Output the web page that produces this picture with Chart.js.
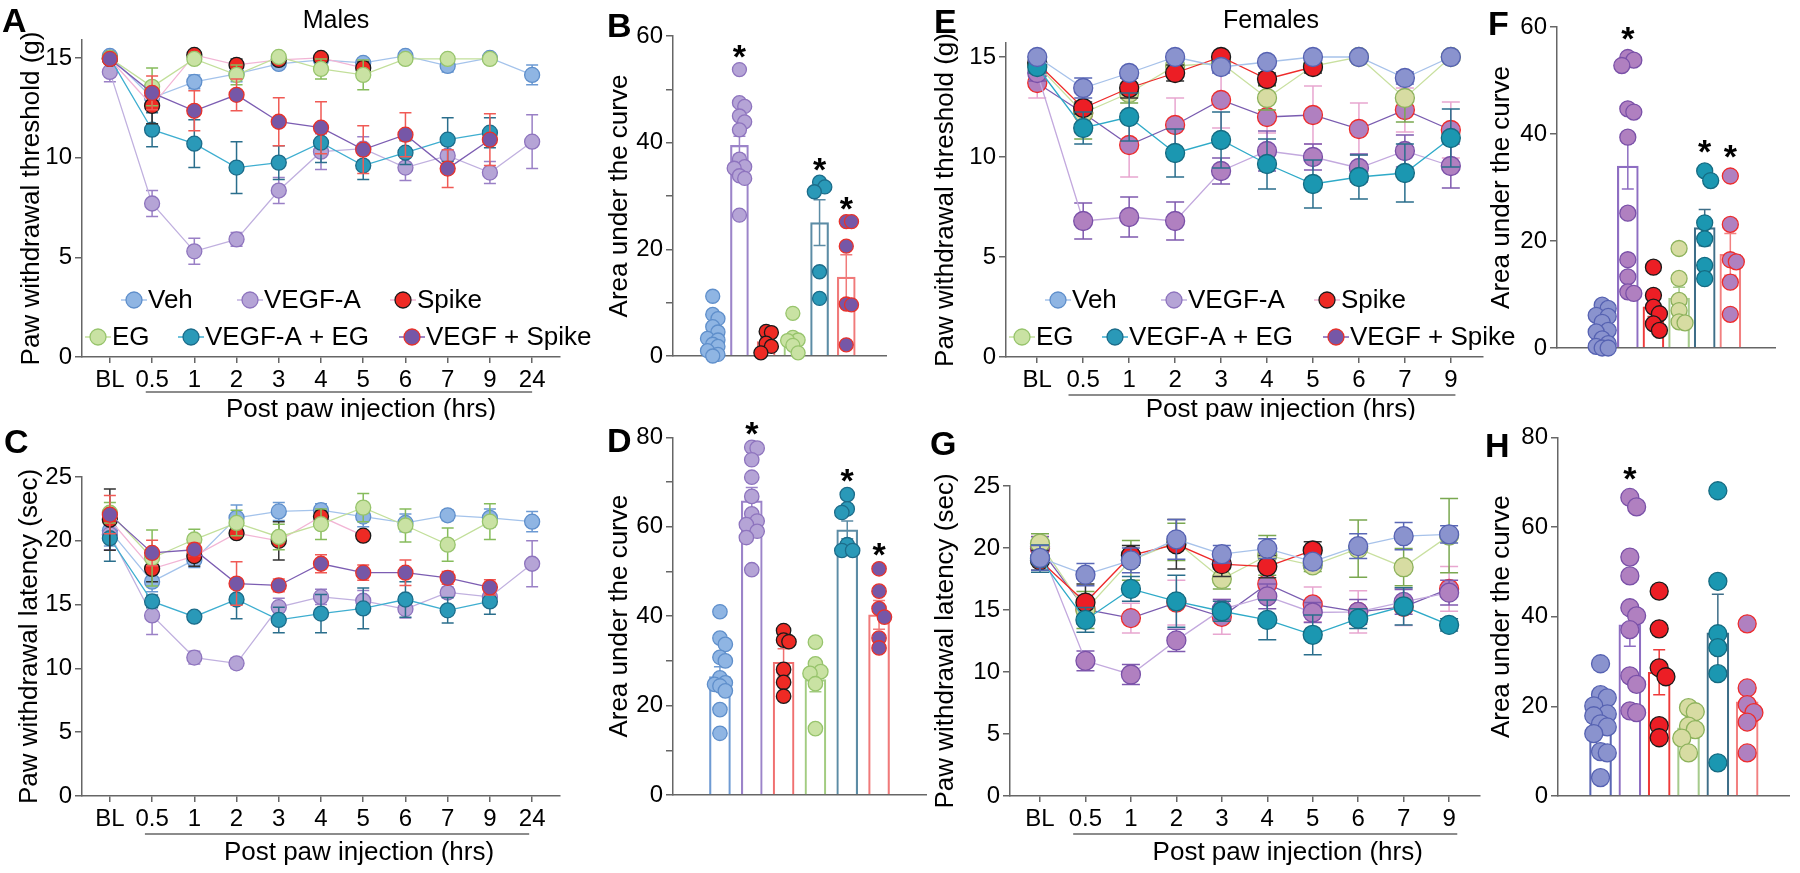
<!DOCTYPE html>
<html><head><meta charset="utf-8">
<script src="https://cdn.jsdelivr.net/npm/chart.js@4.4.1/dist/chart.umd.min.js"></script>
<style>
html,body{margin:0;padding:0;background:#fff;}
#wrap{position:relative;width:1800px;height:873px;overflow:hidden;background:#fff;font-family:Arial,'Liberation Sans',Helvetica,sans-serif;}
canvas{position:absolute;}
.lbl{position:absolute;font-weight:bold;font-size:34px;line-height:34px;color:#000;}
.ttl{position:absolute;font-size:25px;line-height:25px;width:300px;text-align:center;color:#000;}
</style></head>
<body><div id="wrap">
<canvas id="cA"></canvas><canvas id="cB"></canvas><canvas id="cC"></canvas><canvas id="cD"></canvas>
<canvas id="cE"></canvas><canvas id="cF"></canvas><canvas id="cG"></canvas><canvas id="cH"></canvas>
<div class="lbl" style="left:2px;top:3px">A</div>
<div class="lbl" style="left:607px;top:8px">B</div>
<div class="lbl" style="left:4px;top:424px">C</div>
<div class="lbl" style="left:607px;top:423px">D</div>
<div class="lbl" style="left:934px;top:4px">E</div>
<div class="lbl" style="left:1488px;top:6px">F</div>
<div class="lbl" style="left:930px;top:426px">G</div>
<div class="lbl" style="left:1485px;top:428px">H</div>
<div class="ttl" style="left:186px;top:7px">Males</div>
<div class="ttl" style="left:1121px;top:7px">Females</div>
</div>
<script>
// ================= DATA =================
const timeLabelsMales   = ['BL','0.5','1','2','3','4','5','6','7','9','24'];
const timeLabelsFemales = ['BL','0.5','1','2','3','4','5','6','7','9'];
const groupNames = ['Veh','VEGF-A','Spike','EG','VEGF-A + EG','VEGF + Spike'];
const thresholdTicks = [0,5,10,15];
const latencyTicks = [0,5,10,15,20,25];
const aucTicks60 = [0,10,20,30,40,50,60];
const aucTicks80 = [0,10,20,30,40,50,60,70,80];
const aucTicks80major = [0,20,40,60,80];

// A: males, paw withdrawal threshold (g)
const A_veh      = [15.1, 13.0, 13.8, 14.2, 14.7, 14.9, 14.75, 15.1, 14.6, 15.0, 14.15];
const A_veh_sem  = [0.1, 0.5, 0.35, 0.4, 0.2, 0.15, 0.2, 0.1, 0.3, 0.1, 0.5];
const A_vegf     = [14.3, 7.7, 5.3, 5.9, 8.35, 10.3, 10.45, 9.5, 10.1, 9.25, 10.8];
const A_vegf_sem = [0.5, 0.65, 0.65, 0.35, 0.65, 0.9, 0.6, 0.65, 0.55, 0.55, 1.35];
const A_spike    = [14.95, 12.6, 15.15, 14.65, 14.9, 15.0, 14.5, null, null, null, null];
const A_spike_sem= [0.1, 0.9, 0.1, 0.3, 0.15, 0.1, 0.3, null, null, null, null];
const A_eg       = [15.0, 13.55, 14.95, 14.15, 15.05, 14.45, 14.15, 14.95, 14.95, 14.95, null];
const A_eg_sem   = [0.1, 0.95, 0.1, 0.5, 0.1, 0.5, 0.75, 0.1, 0.1, 0.1, null];
const A_vegfeg   = [15.0, 11.4, 10.7, 9.5, 9.75, 10.75, 9.6, 10.25, 10.9, 11.25, null];
const A_vegfeg_sem=[0.1, 0.85, 1.2, 1.3, 0.85, 1.0, 0.7, 0.6, 1.1, 0.75, null];
const A_vegfspk  = [14.95, 13.25, 12.35, 13.15, 11.8, 11.5, 10.4, 11.15, 9.45, 10.9, null];
const A_vegfspk_sem=[0.1, 0.85, 1.0, 0.8, 1.2, 1.3, 1.2, 1.1, 0.95, 1.3, null];

// B: males, AUC (threshold)
const B_means = [3.9, 39.5, 2.7, 2.9, 25.0, 14.8];
const B_sems  = [1.0, 1.7, 0.8, 1.0, 4.3, 4.2];
const B_veh      = [11.2, 7.8, 7.0, 5.5, 4.5, 3.3, 3.0, 2.2, 1.8, 1.0, 0.3, 0.0];
const B_vegf     = [53.7, 47.5, 46.8, 45.0, 43.9, 42.4, 36.9, 35.5, 35.2, 33.8, 33.3, 26.4];
const B_spike    = [4.6, 4.4, 2.4, 1.8, 0.6];
const B_eg       = [8.0, 3.5, 3.0, 2.9, 2.0, 0.6];
const B_vegfeg   = [32.6, 31.7, 30.8, 15.8, 10.8];
const B_vegfspk  = [25.2, 25.2, 20.6, 9.75, 9.6, 2.1];
const B_stars    = [false, true, false, false, true, true];

// C: males, paw withdrawal latency (sec)
const C_veh      = [20.8, 16.8, 18.5, 21.8, 22.3, 22.4, 21.9, 21.4, 22.0, 21.8, 21.5];
const C_veh_sem  = [1.2, 0.8, 0.6, 1.0, 0.7, 0.5, 0.8, 0.7, 0.4, 0.7, 0.8];
const C_vegf     = [20.5, 14.15, 10.85, 10.4, 14.8, 15.6, 15.3, 14.65, 15.95, 15.6, 18.2];
const C_vegf_sem = [1.2, 1.5, 0.5, 0.4, 0.7, 0.6, 0.8, 0.7, 0.4, 0.4, 1.8];
const C_spike    = [21.65, 17.8, 18.8, 20.6, 20.0, 21.9, 20.4, null, null, null, null];
const C_spike_sem= [2.4, 1.0, 0.8, 0.3, 1.5, 0.4, 0.3, null, null, null, null];
const C_eg       = [22.2, 18.65, 20.1, 21.4, 20.3, 21.3, 22.6, 21.2, 19.7, 21.5, null];
const C_eg_sem   = [0.8, 2.2, 0.8, 1.0, 1.0, 1.2, 1.1, 1.3, 1.3, 1.4, null];
const C_vegfeg   = [20.2, 15.25, 14.05, 15.4, 13.8, 14.3, 14.7, 15.4, 14.55, 15.25, null];
const C_vegfeg_sem=[1.8, 0.5, 0.3, 1.5, 1.0, 1.5, 1.6, 1.4, 1.0, 1.0, null];
const C_vegfspk  = [22.05, 19.05, 19.3, 16.65, 16.5, 18.2, 17.5, 17.5, 17.1, 16.35, null];
const C_vegfspk_sem=[1.5, 1.0, 0.5, 1.7, 0.5, 0.7, 0.6, 1.0, 0.5, 0.6, null];

// D: males, AUC (latency)
const D_means = [26.5, 65.8, 29.7, 25.8, 59.3, 40.3];
const D_sems  = [2.2, 3.0, 3.0, 2.7, 2.0, 3.2];
const D_veh      = [41.0, 35.1, 33.7, 30.8, 30.0, 26.2, 25.1, 24.75, 24.4, 23.3, 19.1, 13.8];
const D_vegf     = [77.8, 77.6, 75.0, 71.1, 66.8, 62.9, 61.3, 60.5, 59.0, 57.6, 50.4];
const D_spike    = [36.8, 34.65, 34.3, 28.1, 25.2, 22.1];
const D_eg       = [34.2, 29.35, 27.6, 27.2, 24.9, 14.85];
const D_vegfeg   = [67.2, 64.0, 63.2, 56.0, 54.7, 54.7];
const D_vegfspk  = [50.6, 45.6, 41.7, 39.8, 35.1, 32.9];
const D_stars    = [false, true, false, false, true, true];

// E: females, paw withdrawal threshold (g)
const E_veh      = [15.0, 13.45, 14.2, 15.0, 14.5, 14.75, 15.0, 15.0, 13.95, 15.0];
const E_veh_sem  = [0.1, 0.5, 0.1, 0.1, 0.3, 0.1, 0.1, 0.1, 0.3, 0.1];
const E_vegf     = [14.2, 6.8, 7.0, 6.8, 9.3, 10.3, 10.0, 9.45, 10.3, 9.55];
const E_vegf_sem = [0.4, 0.9, 1.0, 0.95, 0.65, 1.0, 0.65, 0.7, 0.8, 1.1];
const E_spike    = [14.7, 12.45, 13.45, 14.2, 15.0, 13.9, 14.5, null, null, null];
const E_spike_sem= [0.2, 0.3, 0.5, 0.4, 0.1, 0.3, 0.3, null, null, null];
const E_eg       = [14.6, 12.2, 13.2, 14.55, 14.7, 12.95, 14.55, 15.0, 12.95, 15.0];
const E_eg_sem   = [0.2, 1.3, 0.5, 0.3, 0.2, 0.6, 0.2, 0.1, 1.2, 0.1];
const E_vegfeg   = [14.5, 11.45, 12.0, 10.2, 10.85, 9.65, 8.65, 9.0, 9.2, 10.95];
const E_vegfeg_sem=[0.3, 0.8, 1.2, 1.2, 1.4, 1.25, 1.2, 1.1, 1.45, 1.45];
const E_vegfspk  = [13.7, 12.2, 10.6, 11.6, 12.85, 12.0, 12.1, 11.4, 12.35, 11.35];
const E_vegfspk_sem=[0.75, 1.0, 1.6, 1.35, 1.4, 0.8, 1.45, 1.3, 1.1, 1.4];

// F: females, AUC (threshold)
const F_means = [3.2, 34.0, 7.7, 9.35, 22.5, 17.5];
const F_sems  = [0.9, 4.3, 1.8, 2.0, 3.4, 3.9];
const F_veh      = [8.0, 7.4, 6.1, 5.9, 4.8, 3.3, 3.0, 1.7, 0.8, 0.3, 0.0, 0.0];
const F_vegf     = [54.3, 53.8, 52.8, 44.7, 44.1, 39.4, 25.2, 16.5, 13.3, 10.5, 10.2];
const F_spike    = [15.1, 9.85, 7.65, 6.4, 4.5, 3.3];
const F_eg       = [18.6, 13.0, 8.9, 7.0, 4.9, 4.7];
const F_vegfeg   = [33.1, 31.3, 23.4, 20.4, 15.45, 12.95];
const F_vegfspk  = [32.15, 23.1, 16.5, 16.1, 12.3, 6.3];
const F_stars    = [false, true, false, false, true, true];

// G: females, paw withdrawal latency (sec)
const G_veh      = [19.2, 17.85, 19.0, 20.7, 19.5, 19.95, 18.9, 20.15, 20.95, 21.1];
const G_veh_sem  = [1.0, 0.9, 1.0, 1.6, 0.7, 0.8, 0.5, 1.0, 1.1, 0.7];
const G_vegf     = [20.1, 10.9, 9.8, 12.55, 15.05, 16.1, 14.8, 14.85, 15.65, 16.4];
const G_vegf_sem = [0.8, 0.8, 0.8, 0.9, 0.8, 1.0, 0.8, 1.0, 1.0, 1.0];
const G_spike    = [19.0, 15.6, 19.4, 20.3, 18.7, 18.5, 19.8, null, null, null];
const G_spike_sem= [0.8, 1.5, 0.8, 2.0, 1.0, 0.9, 0.7, null, null, null];
const G_eg       = [20.35, 15.0, 19.0, 20.5, 17.5, 19.4, 18.6, 19.95, 18.45, 21.0];
const G_eg_sem   = [0.8, 1.5, 1.6, 1.5, 0.8, 1.6, 0.5, 2.3, 1.5, 3.0];
const G_vegfeg   = [19.15, 14.2, 16.7, 15.7, 14.9, 14.2, 13.0, 14.3, 15.3, 13.8];
const G_vegfeg_sem=[1.1, 1.0, 1.0, 2.1, 0.8, 1.6, 1.6, 0.8, 1.5, 0.5];
const G_vegfspk  = [19.95, 15.05, 14.35, 15.6, 14.45, 17.1, 15.45, 14.85, 15.25, 16.7];
const G_vegfspk_sem=[1.0, 1.2, 1.2, 1.8, 1.4, 1.0, 1.4, 1.7, 1.5, 1.8];

// H: females, AUC (latency)
const H_means = [15.7, 38.2, 27.6, 15.2, 36.4, 21.0];
const H_sems  = [2.0, 4.8, 5.0, 1.6, 8.6, 3.5];
const H_veh      = [29.5, 22.6, 21.9, 20.1, 18.3, 17.9, 16.1, 15.4, 13.9, 9.9, 9.6, 4.1];
const H_vegf     = [66.6, 64.5, 53.3, 49.1, 42.0, 40.2, 37.1, 26.8, 24.9, 19.0, 18.6];
const H_spike    = [45.7, 37.3, 28.6, 26.6, 15.7, 13.0];
const H_eg       = [19.7, 18.8, 15.6, 14.8, 12.9, 9.6];
const H_vegfeg   = [68.1, 47.9, 36.2, 33.1, 27.3, 7.4];
const H_vegfspk  = [38.4, 24.1, 20.4, 18.6, 16.5, 9.6];
const H_stars    = [false, true, false, false, false, false];

// ================= STYLE =================
const FONT = "Arial, 'Liberation Sans', Helvetica, sans-serif";
const AXIS = '#666666';
const malePal = {
  fill:   ['#8fb5e3','#b5a4d6','#ee2a24','#c9e2a3','#2a99b8','#7657a7'],
  border: ['#5f8fcb','#8e74be','#1a1a1a','#97c46c','#1c6c8a','#e8322b'],
  line:   ['#a4c3eb','#c0b0df','#f2b5d5','#c2df9a','#3eaed0','#7c5db2'],
  err:    ['#6c9ad3','#9a80c6','#333333','#86bc5c','#2a6e8c','#f05a55'],
  bar:    ['#6f9bd3','#9c84c9','#f07070','#a2cc80','#5c8ca5','#f07a7a']
};
const femPal = {
  fill:   ['#8a93ce','#b080c0','#ec1e25','#d7dca2','#1b97b1','#b080c0'],
  border: ['#5662b2','#7a50a8','#1a1a1a','#8db25c','#156b82','#ee2c2c'],
  line:   ['#a7c2ea','#c3a9de','#ee2a2a','#c9e0a0','#2eaac8','#7a5cb0'],
  err:    ['#5a68b6','#7f5aaf','#333333','#7aa850','#2a6e8c','#e8a6d0'],
  bar:    ['#5a66b4','#8e6ec2','#ee3a3a','#a6cb8c','#3e6e88','#f28080']
};
const maleOrder = [6,5,3,2,4,1];
const femOrder  = [1,5,3,4,2,6];
const legendDX = [52,168,321,16,109,330];
const legendDY = [-57,-57,-57,-20,-20,-20];

Chart.defaults.font.family = FONT;
Chart.defaults.color = '#000';
Chart.defaults.animation = false;
Chart.defaults.plugins.legend.display = false;
Chart.defaults.plugins.tooltip.enabled = false;

function setupCanvas(id, box){
  const c = document.getElementById(id);
  const w = box[2]-box[0], h = box[3]-box[1];
  c.width = w; c.height = h;
  Object.assign(c.style, {left: box[0]+'px', top: box[1]+'px', width: w+'px', height: h+'px'});
  return c;
}
function padLeft(P){ return P.yTitleX - P.box[0] - 15.6; }
function yScale(P){
  const pl = padLeft(P);
  return {
    type:'linear', min:0, max:P.yMax, bounds:'data',
    afterBuildTicks: s => { s.ticks = P.yTicks.map(v=>({value:v})); },
    afterFit: s => { s.width = P.area[0] - P.box[0] - pl; },
    ticks:{ font:{size:24}, color:'#000', padding:3, autoSkip:false,
      callback: v => (P.yMajor && P.yMajor.indexOf(v) < 0) ? '' : String(v) },
    grid:{ drawOnChartArea:false, drawTicks:true, tickLength:7, color:AXIS, lineWidth:1.5 },
    border:{ display:true, color:AXIS, width:1.5 },
    title:{ display:true, text:P.yTitle, font:{size:26, lineHeight:1.2}, color:'#000', padding:0 }
  };
}
function layoutPad(P){
  return { left: padLeft(P), right: P.box[2]-P.area[2], top: P.area[1]-P.box[1], bottom: 0 };
}

const errPlugin = {
  id:'errbars',
  beforeDatasetDraw(chart, args){ if (chart.data.datasets[args.index].type === 'line') drawErr(chart, args.index); },
  afterDatasetDraw(chart, args){ if (chart.data.datasets[args.index].type === 'bar') drawErr(chart, args.index); }
};
function drawErr(chart, di){
  const ds = chart.data.datasets[di];
  if (!ds.sem) return;
  const meta = chart.getDatasetMeta(di), ys = chart.scales.y, ctx = chart.ctx;
  ctx.save(); ctx.lineWidth = 1.5;
  meta.data.forEach((el, i) => {
    const d = ds.data[i], e = ds.sem[i];
    if (!d || d.y == null || e == null) return;
    const x = el.x, yt = ys.getPixelForValue(d.y + e), yb = ys.getPixelForValue(d.y - e), cw = ds.capW;
    ctx.strokeStyle = Array.isArray(ds.semColor) ? ds.semColor[i] : ds.semColor;
    ctx.beginPath();
    ctx.moveTo(x, yt); ctx.lineTo(x, yb);
    ctx.moveTo(x-cw, yt); ctx.lineTo(x+cw, yt);
    ctx.moveTo(x-cw, yb); ctx.lineTo(x+cw, yb);
    ctx.stroke();
  });
  ctx.restore();
}
// compact beeswarm spread of dots on bar charts (overlap allowed, like the original)
const swarmPlugin = {
  id:'swarm',
  afterDatasetsUpdate(chart){
    chart.data.datasets.forEach((ds, di) => {
      if (ds.type !== 'scatter') return;
      const meta = chart.getDatasetMeta(di);
      const r = ds.pointRadius, step = r*0.75, minD = r*1.25;
      const idx = meta.data.map((p,i)=>i).sort((a,b)=>meta.data[a].y - meta.data[b].y);
      const placed = [];
      idx.forEach(i => {
        const p = meta.data[i], cx = p.x;
        const cands = [0, 1, -1];
        let best = 0, bestD = -1;
        for (const k of cands){
          const x = cx + k*step;
          const dmin = placed.reduce((m, q) => Math.min(m, Math.hypot(q.x-x, q.y-p.y)), Infinity);
          if (dmin >= minD) { best = k*step; bestD = Infinity; break; }
          if (dmin > bestD) { bestD = dmin; best = k*step; }
        }
        p.x = cx + best; placed.push({x:p.x, y:p.y});
      });
    });
  }
};
Chart.register(errPlugin, swarmPlugin);

function xDecorPlugin(P){
  return { id:'xdecor', afterDraw(chart){
    const ctx = chart.ctx, xs = chart.scales.x, oy = P.box[1];
    ctx.save();
    ctx.strokeStyle = AXIS; ctx.lineWidth = 1.5;
    ctx.beginPath();
    ctx.moveTo(xs.getPixelForValue(P.bracket[0]), P.bracket[2]-oy);
    ctx.lineTo(xs.getPixelForValue(P.bracket[1]), P.bracket[2]-oy);
    ctx.stroke();
    ctx.fillStyle = '#000'; ctx.font = '26px ' + FONT; ctx.textAlign = 'center'; ctx.textBaseline = 'middle';
    ctx.fillText('Post paw injection (hrs)', xs.getPixelForValue(P.xTitleAt), P.xTitleY - oy);
    ctx.restore();
  }};
}
function legendPlugin(pal){
  return { id:'glegend', afterDraw(chart){
    const ctx = chart.ctx, a = chart.chartArea;
    ctx.save();
    groupNames.forEach((name, g) => {
      const x = a.left + legendDX[g], y = a.bottom + legendDY[g];
      ctx.strokeStyle = pal.line[g]; ctx.lineWidth = 1.5;
      ctx.beginPath(); ctx.moveTo(x-13, y); ctx.lineTo(x+13, y); ctx.stroke();
      ctx.beginPath(); ctx.arc(x, y, 8, 0, Math.PI*2);
      ctx.fillStyle = pal.fill[g]; ctx.fill();
      ctx.strokeStyle = pal.border[g]; ctx.lineWidth = 1.3; ctx.stroke();
      ctx.fillStyle = '#000'; ctx.font = '26px ' + FONT; ctx.textAlign = 'left'; ctx.textBaseline = 'middle';
      ctx.fillText(name, x + 14, y + 1);
    });
    ctx.restore();
  }};
}
function starPlugin(P){
  return { id:'stars', afterDatasetsDraw(chart){
    const ctx = chart.ctx, xs = chart.scales.x, ys = chart.scales.y;
    ctx.save(); ctx.fillStyle = '#000'; ctx.font = 'bold 34px ' + FONT;
    ctx.textAlign = 'center'; ctx.textBaseline = 'alphabetic';
    P.stars.forEach((s, g) => {
      if (!s) return;
      const top = Math.max.apply(null, P.points[g]);
      const yc = ys.getPixelForValue(top) - P.starOff;
      ctx.fillText('*', xs.getPixelForValue(g), yc + 0.57*34);
    });
    ctx.restore();
  }};
}

function buildLinePanel(id, P){
  const c = setupCanvas(id, P.box);
  const datasets = P.series.map((vals, g) => ({
    type:'line', label: groupNames[g],
    data: vals.map((v, i) => ({x:i, y:v})),
    borderColor: P.pal.line[g], borderWidth: 1.3, tension: 0, fill: false, spanGaps: false,
    pointRadius: P.radius, pointHoverRadius: P.radius,
    pointBackgroundColor: P.pal.fill[g], pointBorderColor: P.pal.border[g], pointBorderWidth: 1.3,
    sem: P.sems[g], semColor: P.pal.err[g], capW: P.capW,
    order: P.order[g], clip: false
  }));
  const plugins = [xDecorPlugin(P)];
  if (P.legend) plugins.push(legendPlugin(malePal));
  new Chart(c, {
    type:'line',
    data:{ datasets },
    options:{
      responsive:false, maintainAspectRatio:false, devicePixelRatio:1, animation:false, events:[],
      layout:{ padding: layoutPad(P) },
      scales:{
        x:{ type:'linear', min:P.xMin, max:P.xMax, bounds:'data',
          afterBuildTicks: s => { s.ticks = P.labels.map((_, i) => ({value:i})); },
          afterFit: s => { s.height = P.box[3] - P.area[3]; },
          ticks:{ font:{size:24}, color:'#000', padding:3, autoSkip:false, maxRotation:0, callback: v => P.labels[v] },
          grid:{ drawOnChartArea:false, drawTicks:true, tickLength:6, color:AXIS, lineWidth:1.5 },
          border:{ display:true, color:AXIS, width:1.5 }
        },
        y: yScale(P)
      }
    },
    plugins
  });
}

function buildBarPanel(id, P){
  const c = setupCanvas(id, P.box);
  const datasets = [{
    type:'bar', data: P.means.map((m, i) => ({x:i, y:m})),
    backgroundColor:'rgba(255,255,255,0)', borderColor: P.pal.bar, borderWidth: 1.5,
    barThickness: P.barW, borderSkipped: 'bottom',
    sem: P.sems, semColor: P.pal.bar, capW: 6, order: 10
  }];
  P.points.forEach((pts, g) => {
    datasets.push({
      type:'scatter', data: pts.map(v => ({x:g, y:v})),
      pointRadius: P.radius, pointHoverRadius: P.radius,
      pointBackgroundColor: P.pal.fill[g], pointBorderColor: P.pal.border[g], pointBorderWidth: 1.3,
      order: 1, clip: false
    });
  });
  new Chart(c, {
    type:'bar',
    data:{ datasets },
    options:{
      responsive:false, maintainAspectRatio:false, devicePixelRatio:1, animation:false, events:[],
      layout:{ padding: layoutPad(P) },
      scales:{
        x:{ type:'linear', min:P.xMin, max:P.xMax, bounds:'data',
          afterFit: s => { s.height = P.box[3] - P.area[3]; },
          ticks:{ display:false },
          grid:{ display:false },
          border:{ display:true, color:AXIS, width:1.5 }
        },
        y: yScale(P)
      }
    },
    plugins:[starPlugin(P)]
  });
}

// ================= PANELS =================
buildLinePanel('cA', {
  box:[0,0,620,420], area:[82,40,560,357], yTitleX:32, yMax:15.9, yTicks:thresholdTicks,
  yTitle:'Paw withdrawal threshold (g)', labels:timeLabelsMales, xMin:-0.66, xMax:10.66,
  series:[A_veh, A_vegf, A_spike, A_eg, A_vegfeg, A_vegfspk],
  sems:[A_veh_sem, A_vegf_sem, A_spike_sem, A_eg_sem, A_vegfeg_sem, A_vegfspk_sem],
  pal:malePal, order:maleOrder, radius:7.5, capW:6,
  bracket:[0.85, 10.0, 392], xTitleAt:5.95, xTitleY:410, legend:true
});
buildBarPanel('cB', {
  box:[590,0,900,420], area:[673,36,886,356], yTitleX:620, yMax:60, yTicks:aucTicks60, yMajor:[0,20,40,60],
  yTitle:'Area under the curve', xMin:-0.69, xMax:5.69,
  means:B_means, sems:B_sems, points:[B_veh, B_vegf, B_spike, B_eg, B_vegfeg, B_vegfspk], stars:B_stars,
  pal:malePal, barW:18, radius:7, starOff:21
});
buildLinePanel('cC', {
  box:[0,420,620,873], area:[82,477,560,796], yTitleX:30, yMax:25, yTicks:latencyTicks,
  yTitle:'Paw withdrawal latency (sec)', labels:timeLabelsMales, xMin:-0.66, xMax:10.66,
  series:[C_veh, C_vegf, C_spike, C_eg, C_vegfeg, C_vegfspk],
  sems:[C_veh_sem, C_vegf_sem, C_spike_sem, C_eg_sem, C_vegfeg_sem, C_vegfspk_sem],
  pal:malePal, order:maleOrder, radius:7.5, capW:6,
  bracket:[0.83, 9.93, 834], xTitleAt:5.9, xTitleY:853, legend:false
});
buildBarPanel('cD', {
  box:[590,420,940,873], area:[673,418,926,795], yTitleX:620, yMax:80, yTicks:aucTicks80, yMajor:aucTicks80major,
  yTitle:'Area under the curve', xMin:-0.68, xMax:5.68,
  means:D_means, sems:D_sems, points:[D_veh, D_vegf, D_spike, D_eg, D_vegfeg, D_vegfspk], stars:D_stars,
  pal:malePal, barW:21, radius:7.2, starOff:22
});
buildLinePanel('cE', {
  box:[910,0,1530,420], area:[1006,43,1483,357], yTitleX:946, yMax:15.7, yTicks:thresholdTicks,
  yTitle:'Paw withdrawal threshold (g)', labels:timeLabelsFemales, xMin:-0.68, xMax:9.7,
  series:[E_veh, E_vegf, E_spike, E_eg, E_vegfeg, E_vegfspk],
  sems:[E_veh_sem, E_vegf_sem, E_spike_sem, E_eg_sem, E_vegfeg_sem, E_vegfspk_sem],
  pal:femPal, order:femOrder, radius:9.5, capW:9,
  bracket:[0.68, 9.1, 395], xTitleAt:5.3, xTitleY:410, legend:true
});
buildBarPanel('cF', {
  box:[1470,0,1800,420], area:[1557,27,1775,348], yTitleX:1502, yMax:60, yTicks:[0,20,40,60],
  yTitle:'Area under the curve', xMin:-0.7, xMax:5.68,
  means:F_means, sems:F_sems, points:[F_veh, F_vegf, F_spike, F_eg, F_vegfeg, F_vegfspk], stars:F_stars,
  pal:femPal, barW:21, radius:8, starOff:27
});
buildLinePanel('cG', {
  box:[910,420,1530,873], area:[1010,486,1480,796], yTitleX:946, yMax:25, yTicks:latencyTicks,
  yTitle:'Paw withdrawal latency (sec)', labels:timeLabelsFemales, xMin:-0.66, xMax:9.68,
  series:[G_veh, G_vegf, G_spike, G_eg, G_vegfeg, G_vegfspk],
  sems:[G_veh_sem, G_vegf_sem, G_spike_sem, G_eg_sem, G_vegfeg_sem, G_vegfspk_sem],
  pal:femPal, order:femOrder, radius:9.5, capW:9,
  bracket:[0.73, 9.18, 834], xTitleAt:5.45, xTitleY:853, legend:false
});
buildBarPanel('cH', {
  box:[1470,420,1800,873], area:[1558,427,1796,796], yTitleX:1502, yMax:80, yTicks:aucTicks80major,
  yTitle:'Area under the curve', xMin:-0.66, xMax:5.66,
  means:H_means, sems:H_sems, points:[H_veh, H_vegf, H_spike, H_eg, H_vegfeg, H_vegfspk], stars:H_stars,
  pal:femPal, barW:22, radius:9, starOff:27
});
</script>
</body></html>
